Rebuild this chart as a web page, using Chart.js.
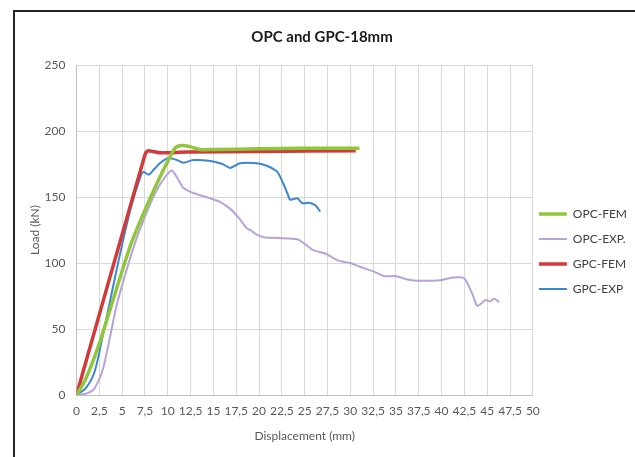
<!DOCTYPE html>
<html>
<head>
<meta charset="utf-8">
<script src="https://cdn.jsdelivr.net/npm/chart.js@4"></script>
<style>
  html, body { margin: 0; padding: 0; background: #fff; }
  #wrap { position: relative; width: 635px; height: 457px; overflow: hidden; }
  #frame { position: absolute; left: 13px; top: 10px; width: 700px; height: 500px;
    border-left: 2px solid #262626; border-top: 2px solid #262626; }
  canvas { position: absolute; left: 0; top: 0; }
</style>
</head>
<body>
<div id="wrap">
  <div id="frame"></div>
  <canvas id="myChart" width="635" height="457"></canvas>
</div>
<script>
'use strict';

// Displacement (mm) / Load (kN)
const opcFemX = [0, 1, 2.5, 4, 5, 6, 7.5, 9, 10, 10.8, 11.5, 12.5, 13.5, 15, 20, 25, 31];
const opcFemY = [0, 12, 39, 72, 94, 115, 140, 163, 177, 187, 189, 188, 186, 186, 186.5, 187, 187];

const opcExpX = [0, 1, 1.85, 2.5, 2.95, 3.5, 4.4, 5.5, 6.5, 7.5, 8.5, 9.2, 9.8, 10.45, 11, 11.7, 12.8,
  14.65, 15.8, 16.85, 17.8, 18.7, 19.05, 19.6, 20.5, 22, 24.2, 24.9, 26, 27.3, 28.6, 30, 31.1, 32.6,
  33.7, 35, 36.25, 37.5, 39.9, 41.2, 42.3, 42.65, 43.4, 43.9, 44.3, 44.8, 45.3, 45.75, 46.3];
const opcExpY = [0, 1, 4, 12, 21, 38, 68, 95, 117, 135, 151, 160, 166, 170, 165, 157, 153,
  149, 146, 141, 134, 126, 125, 122, 119.5, 119, 118, 115, 109.5, 107, 102, 100, 97, 93.5,
  90, 90, 87.5, 86.5, 87, 89, 89, 87, 76, 67.5, 69, 72, 71, 73, 70.5];

const gpcFemX = [0, 7.5, 7.8, 8.4, 9.2, 12, 20, 30.6];
const gpcFemY = [0, 182, 185, 184.5, 183.5, 184, 184.5, 185];

const gpcExpX = [0, 1, 2, 3, 3.7, 4, 5, 6, 7, 7.35, 7.9, 8.5, 9.2, 10.1, 11, 11.7, 12.8, 14.5, 16,
  16.85, 17.9, 19.8, 20.9, 22, 22.6, 23.1, 23.4, 24.2, 24.7, 25.6, 26.2, 26.7];
const gpcExpY = [0, 5, 18, 49, 72, 82, 114, 143, 165, 169, 167, 171, 176, 179.5, 178, 176, 178, 177.5, 175,
  172, 175.5, 175.5, 173.5, 169, 161, 153, 148, 149, 145.5, 145.5, 143.5, 139];

const seriesNames = ['OPC-FEM', 'OPC-EXP.', 'GPC-FEM', 'GPC-EXP'];
const seriesColors = ['#8fc63c', '#b8a3d9', '#cf3a3a', '#3d86d0'];
const seriesWidths = [3.5, 2, 3.5, 2];

const xMin = 0, xMax = 50, xStep = 2.5;
const yMin = 0, yMax = 250, yStep = 50;

const toPoints = (xs, ys) => xs.map((x, i) => ({ x: x, y: ys[i] }));

const allSeries = [
  toPoints(opcFemX, opcFemY),
  toPoints(opcExpX, opcExpY),
  toPoints(gpcFemX, gpcFemY),
  toPoints(gpcExpX, gpcExpY)
];

const textColor = '#595959';
const gridColor = '#d9d9d9';
Chart.defaults.font.family = 'Lato, "Open Sans", sans-serif';

// nudge the legend closer to the plot, like the Excel original
const legendShift = {
  id: 'legendShift',
  afterLayout: (chart) => {
    const lg = chart.legend;
    lg.left -= 7;
    lg.right -= 7;
    lg.top += 23;
    lg.bottom += 23;
  }
};

const ctx = document.querySelector('#myChart').getContext('2d');

const myChart = new Chart(ctx, {
  type: 'line',
  data: {
    datasets: allSeries.map((pts, i) => ({
      label: seriesNames[i],
      data: pts,
      borderColor: seriesColors[i],
      backgroundColor: seriesColors[i],
      borderWidth: seriesWidths[i],
      pointRadius: 0,
      pointStyle: 'line',
      tension: 0.25,
      fill: false
    }))
  },
  options: {
    responsive: false,
    animation: false,
    layout: {
      padding: { left: 0, right: -9, top: 0, bottom: 0 }
    },
    scales: {
      x: {
        type: 'linear',
        min: xMin,
        max: xMax,
        afterFit: (scale) => { scale.height = 62; },
        grid: { color: gridColor, drawTicks: false },
        border: { color: '#bfbfbf' },
        ticks: {
          stepSize: xStep,
          autoSkip: false,
          maxRotation: 0,
          padding: 9,
          color: textColor,
          font: { size: 12 },
          callback: (value) => String(value).replace('.', ',')
        },
        title: {
          display: true,
          text: 'Displacement (mm)',
          color: textColor,
          font: { size: 12 },
          padding: { top: 0, bottom: 14 }
        }
      },
      y: {
        min: yMin,
        max: yMax,
        afterFit: (scale) => { scale.width = 76.5; },
        grid: { color: gridColor, drawTicks: false },
        border: { color: '#bfbfbf' },
        ticks: {
          stepSize: yStep,
          padding: 11,
          color: textColor,
          font: { size: 12 }
        },
        title: {
          display: true,
          text: 'Load (kN)',
          color: textColor,
          font: { size: 12 },
          padding: { top: 28, bottom: 0 }
        }
      }
    },
    plugins: {
      title: {
        display: true,
        text: 'OPC and GPC-18mm',
        color: '#1a1a1a',
        font: { size: 15, weight: 'bold' },
        padding: { top: 28, bottom: 19 }
      },
      legend: {
        position: 'right',
        labels: {
          usePointStyle: true,
          pointStyleWidth: 28,
          boxHeight: 12,
          padding: 13,
          color: '#404040',
          font: { size: 12 }
        }
      },
      tooltip: { enabled: false }
    }
  },
  plugins: [legendShift]
});
</script>
</body>
</html>
